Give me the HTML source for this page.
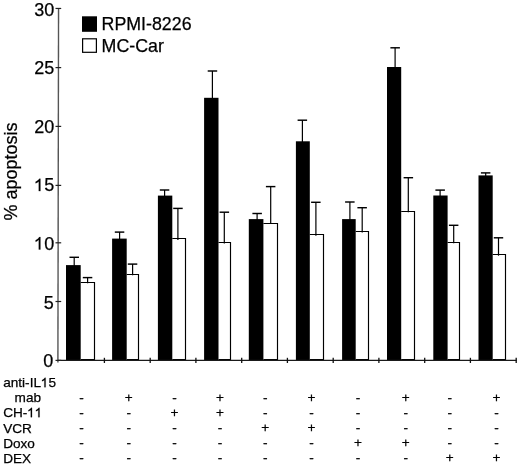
<!DOCTYPE html><html><head><meta charset="utf-8"><style>
html,body{margin:0;padding:0;background:#fff;}
svg{display:block;filter:grayscale(1);}
text{font-family:"Liberation Sans", sans-serif;fill:#000;stroke:#000;stroke-width:0.25px;font-kerning:none;}
.h{fill-opacity:0;stroke-opacity:0;}
</style></head><body>
<svg width="520" height="464" viewBox="0 0 520 464">
<line x1="74.2" y1="257.3" x2="74.2" y2="266.1" stroke="#000" stroke-width="1.2"/>
<line x1="69.5" y1="257.3" x2="79.0" y2="257.3" stroke="#000" stroke-width="1.45"/>
<line x1="87.6" y1="277.6" x2="87.6" y2="283.3" stroke="#000" stroke-width="1.2"/>
<line x1="82.8" y1="277.6" x2="92.3" y2="277.6" stroke="#000" stroke-width="1.45"/>
<rect x="66.0" y="265.1" width="14.7" height="94.9" fill="#000"/>
<path d="M80.7 282.5 H94.5 V360.0" fill="none" stroke="#000" stroke-width="1.15"/>
<line x1="80.7" y1="359.5" x2="94.5" y2="359.5" stroke="#000" stroke-width="1"/>
<line x1="119.6" y1="232.1" x2="119.6" y2="239.6" stroke="#000" stroke-width="1.2"/>
<line x1="114.8" y1="232.1" x2="124.3" y2="232.1" stroke="#000" stroke-width="1.45"/>
<line x1="132.6" y1="264.1" x2="132.6" y2="275.2" stroke="#000" stroke-width="1.2"/>
<line x1="127.8" y1="264.1" x2="137.3" y2="264.1" stroke="#000" stroke-width="1.45"/>
<rect x="112.1" y="238.6" width="14.6" height="121.4" fill="#000"/>
<path d="M126.7 274.5 H138.5 V360.0" fill="none" stroke="#000" stroke-width="1.15"/>
<line x1="126.7" y1="359.5" x2="138.5" y2="359.5" stroke="#000" stroke-width="1"/>
<line x1="164.6" y1="190.0" x2="164.6" y2="196.6" stroke="#000" stroke-width="1.2"/>
<line x1="159.8" y1="190.0" x2="169.3" y2="190.0" stroke="#000" stroke-width="1.45"/>
<line x1="177.9" y1="208.4" x2="177.9" y2="239.9" stroke="#000" stroke-width="1.2"/>
<line x1="173.2" y1="208.4" x2="182.7" y2="208.4" stroke="#000" stroke-width="1.45"/>
<rect x="157.9" y="195.6" width="14.4" height="164.4" fill="#000"/>
<path d="M172.3 238.5 H185.5 V360.0" fill="none" stroke="#000" stroke-width="1.15"/>
<line x1="172.3" y1="359.5" x2="185.5" y2="359.5" stroke="#000" stroke-width="1"/>
<line x1="212.4" y1="71.0" x2="212.4" y2="98.8" stroke="#000" stroke-width="1.2"/>
<line x1="207.7" y1="71.0" x2="217.2" y2="71.0" stroke="#000" stroke-width="1.45"/>
<line x1="224.3" y1="212.2" x2="224.3" y2="243.4" stroke="#000" stroke-width="1.2"/>
<line x1="219.6" y1="212.2" x2="229.1" y2="212.2" stroke="#000" stroke-width="1.45"/>
<rect x="204.1" y="97.8" width="14.4" height="262.2" fill="#000"/>
<path d="M218.5 242.5 H230.5 V360.0" fill="none" stroke="#000" stroke-width="1.15"/>
<line x1="218.5" y1="359.5" x2="230.5" y2="359.5" stroke="#000" stroke-width="1"/>
<line x1="257.1" y1="213.5" x2="257.1" y2="220.1" stroke="#000" stroke-width="1.2"/>
<line x1="252.4" y1="213.5" x2="261.9" y2="213.5" stroke="#000" stroke-width="1.45"/>
<line x1="270.7" y1="186.6" x2="270.7" y2="224.1" stroke="#000" stroke-width="1.2"/>
<line x1="265.9" y1="186.6" x2="275.4" y2="186.6" stroke="#000" stroke-width="1.45"/>
<rect x="248.8" y="219.1" width="14.6" height="140.9" fill="#000"/>
<path d="M263.4 223.5 H277.5 V360.0" fill="none" stroke="#000" stroke-width="1.15"/>
<line x1="263.4" y1="359.5" x2="277.5" y2="359.5" stroke="#000" stroke-width="1"/>
<line x1="302.4" y1="120.2" x2="302.4" y2="142.3" stroke="#000" stroke-width="1.2"/>
<line x1="297.6" y1="120.2" x2="307.1" y2="120.2" stroke="#000" stroke-width="1.45"/>
<line x1="315.9" y1="202.3" x2="315.9" y2="235.7" stroke="#000" stroke-width="1.2"/>
<line x1="311.1" y1="202.3" x2="320.6" y2="202.3" stroke="#000" stroke-width="1.45"/>
<rect x="295.9" y="141.3" width="13.9" height="218.7" fill="#000"/>
<path d="M309.8 234.5 H323.5 V360.0" fill="none" stroke="#000" stroke-width="1.15"/>
<line x1="309.8" y1="359.5" x2="323.5" y2="359.5" stroke="#000" stroke-width="1"/>
<line x1="349.9" y1="202.0" x2="349.9" y2="220.1" stroke="#000" stroke-width="1.2"/>
<line x1="345.1" y1="202.0" x2="354.6" y2="202.0" stroke="#000" stroke-width="1.45"/>
<line x1="362.2" y1="207.7" x2="362.2" y2="232.4" stroke="#000" stroke-width="1.2"/>
<line x1="357.4" y1="207.7" x2="366.9" y2="207.7" stroke="#000" stroke-width="1.45"/>
<rect x="342.1" y="219.1" width="13.6" height="140.9" fill="#000"/>
<path d="M355.7 231.5 H368.5 V360.0" fill="none" stroke="#000" stroke-width="1.15"/>
<line x1="355.7" y1="359.5" x2="368.5" y2="359.5" stroke="#000" stroke-width="1"/>
<line x1="395.1" y1="47.8" x2="395.1" y2="68.0" stroke="#000" stroke-width="1.2"/>
<line x1="390.4" y1="47.8" x2="399.9" y2="47.8" stroke="#000" stroke-width="1.45"/>
<line x1="408.3" y1="177.7" x2="408.3" y2="212.2" stroke="#000" stroke-width="1.2"/>
<line x1="403.6" y1="177.7" x2="413.1" y2="177.7" stroke="#000" stroke-width="1.45"/>
<rect x="387.0" y="67.0" width="14.2" height="293.0" fill="#000"/>
<path d="M401.2 211.5 H414.5 V360.0" fill="none" stroke="#000" stroke-width="1.15"/>
<line x1="401.2" y1="359.5" x2="414.5" y2="359.5" stroke="#000" stroke-width="1"/>
<line x1="440.1" y1="190.1" x2="440.1" y2="196.5" stroke="#000" stroke-width="1.2"/>
<line x1="435.4" y1="190.1" x2="444.9" y2="190.1" stroke="#000" stroke-width="1.45"/>
<line x1="453.7" y1="225.3" x2="453.7" y2="243.2" stroke="#000" stroke-width="1.2"/>
<line x1="448.9" y1="225.3" x2="458.4" y2="225.3" stroke="#000" stroke-width="1.45"/>
<rect x="433.3" y="195.5" width="14.3" height="164.5" fill="#000"/>
<path d="M447.6 242.5 H459.5 V360.0" fill="none" stroke="#000" stroke-width="1.15"/>
<line x1="447.6" y1="359.5" x2="459.5" y2="359.5" stroke="#000" stroke-width="1"/>
<line x1="485.7" y1="172.9" x2="485.7" y2="176.4" stroke="#000" stroke-width="1.2"/>
<line x1="480.9" y1="172.9" x2="490.4" y2="172.9" stroke="#000" stroke-width="1.45"/>
<line x1="498.5" y1="237.8" x2="498.5" y2="255.7" stroke="#000" stroke-width="1.2"/>
<line x1="493.8" y1="237.8" x2="503.2" y2="237.8" stroke="#000" stroke-width="1.45"/>
<rect x="478.5" y="175.4" width="14.2" height="184.6" fill="#000"/>
<path d="M492.7 254.5 H505.5 V360.0" fill="none" stroke="#000" stroke-width="1.15"/>
<line x1="492.7" y1="359.5" x2="505.5" y2="359.5" stroke="#000" stroke-width="1"/>
<line x1="58.55" y1="8.4" x2="57.9" y2="362.5" stroke="#555" stroke-width="1.4"/>
<line x1="58" y1="360.4" x2="516.8" y2="360.4" stroke="#1a1a1a" stroke-width="1.2"/>
<line x1="55.5" y1="8.45" x2="61.2" y2="8.45" stroke="#222" stroke-width="1.2"/>
<text x="54.30" y="15.50" font-size="18" text-anchor="end">30</text>
<line x1="55.5" y1="67.60" x2="61.2" y2="67.60" stroke="#222" stroke-width="1.2"/>
<text x="54.30" y="73.80" font-size="18" text-anchor="end">25</text>
<line x1="55.5" y1="126.40" x2="61.2" y2="126.40" stroke="#222" stroke-width="1.2"/>
<text x="54.30" y="132.50" font-size="18" text-anchor="end">20</text>
<line x1="55.5" y1="185.40" x2="61.2" y2="185.40" stroke="#222" stroke-width="1.2"/>
<text id="t4" x="54.30" y="191.10" font-size="18" text-anchor="end"><tspan class="h">1</tspan>5</text>
<path d="M695 0H515V1098Q450 1038 344.5 979Q239 920 155 890V1057Q306 1124 419 1221Q532 1318 579 1409H695Z" transform="translate(34.27 191.10) scale(0.00879 -0.00879)" fill="#000" stroke="#000" stroke-width="28.4"/>
<line x1="55.5" y1="242.80" x2="61.2" y2="242.80" stroke="#222" stroke-width="1.2"/>
<text id="t5" x="54.30" y="249.50" font-size="18" text-anchor="end"><tspan class="h">1</tspan>0</text>
<path d="M695 0H515V1098Q450 1038 344.5 979Q239 920 155 890V1057Q306 1124 419 1221Q532 1318 579 1409H695Z" transform="translate(34.27 249.50) scale(0.00879 -0.00879)" fill="#000" stroke="#000" stroke-width="28.4"/>
<line x1="55.5" y1="301.50" x2="61.2" y2="301.50" stroke="#222" stroke-width="1.2"/>
<text x="53.70" y="308.60" font-size="18" text-anchor="end">5</text>
<line x1="55.5" y1="360.40" x2="61.2" y2="360.40" stroke="#222" stroke-width="1.2"/>
<text x="53.30" y="366.65" font-size="18" text-anchor="end">0</text>
<line x1="104.4" y1="357.8" x2="104.4" y2="363" stroke="#111" stroke-width="1.3"/>
<line x1="150.2" y1="357.8" x2="150.2" y2="363" stroke="#111" stroke-width="1.3"/>
<line x1="195.9" y1="357.8" x2="195.9" y2="363" stroke="#111" stroke-width="1.3"/>
<line x1="241.7" y1="357.8" x2="241.7" y2="363" stroke="#111" stroke-width="1.3"/>
<line x1="287.4" y1="357.8" x2="287.4" y2="363" stroke="#111" stroke-width="1.3"/>
<line x1="333.2" y1="357.8" x2="333.2" y2="363" stroke="#111" stroke-width="1.3"/>
<line x1="378.9" y1="357.8" x2="378.9" y2="363" stroke="#111" stroke-width="1.3"/>
<line x1="424.7" y1="357.8" x2="424.7" y2="363" stroke="#111" stroke-width="1.3"/>
<line x1="470.4" y1="357.8" x2="470.4" y2="363" stroke="#111" stroke-width="1.3"/>
<line x1="516.2" y1="357.8" x2="516.2" y2="363" stroke="#111" stroke-width="1.3"/>
<text transform="translate(16.6,220.5) rotate(-90)" font-size="18">% apoptosis</text>
<rect x="82" y="16.3" width="15" height="15.5" fill="#000"/>
<rect x="82.6" y="38.8" width="13.8" height="13.5" fill="#fff" stroke="#000" stroke-width="1.2"/>
<text x="101.60" y="29.80" font-size="17.8">RPMI-8226</text>
<text x="101.60" y="51.60" font-size="17.8">MC-Car</text>
<text id="t10" x="3.20" y="387.20" font-size="13.6">anti-IL<tspan class="h">1</tspan>5</text>
<path d="M695 0H515V1098Q450 1038 344.5 979Q239 920 155 890V1057Q306 1124 419 1221Q532 1318 579 1409H695Z" transform="translate(40.98 387.20) scale(0.00664 -0.00664)" fill="#000" stroke="#000" stroke-width="37.6"/>
<text x="14.60" y="402.20" font-size="13.6">mab</text>
<text id="t12" x="3.20" y="417.20" font-size="13.6">CH-<tspan class="h">1</tspan><tspan class="h">1</tspan></text>
<path d="M695 0H515V1098Q450 1038 344.5 979Q239 920 155 890V1057Q306 1124 419 1221Q532 1318 579 1409H695Z" transform="translate(27.37 417.20) scale(0.00664 -0.00664)" fill="#000" stroke="#000" stroke-width="37.6"/>
<path d="M695 0H515V1098Q450 1038 344.5 979Q239 920 155 890V1057Q306 1124 419 1221Q532 1318 579 1409H695Z" transform="translate(34.93 417.20) scale(0.00664 -0.00664)" fill="#000" stroke="#000" stroke-width="37.6"/>
<text x="3.20" y="432.50" font-size="13.6">VCR</text>
<text x="3.20" y="447.60" font-size="13.6">Doxo</text>
<text x="3.20" y="462.70" font-size="13.6">DEX</text>
<text x="81.5" y="401.9" font-size="13.6" text-anchor="middle">-</text>
<text x="128.7" y="401.9" font-size="13.6" text-anchor="middle">+</text>
<text x="174.4" y="401.9" font-size="13.6" text-anchor="middle">-</text>
<text x="220.0" y="401.9" font-size="13.6" text-anchor="middle">+</text>
<text x="265.2" y="401.9" font-size="13.6" text-anchor="middle">-</text>
<text x="311.6" y="401.9" font-size="13.6" text-anchor="middle">+</text>
<text x="358.0" y="401.9" font-size="13.6" text-anchor="middle">-</text>
<text x="405.8" y="401.9" font-size="13.6" text-anchor="middle">+</text>
<text x="449.7" y="401.9" font-size="13.6" text-anchor="middle">-</text>
<text x="496.5" y="401.9" font-size="13.6" text-anchor="middle">+</text>
<text x="81.5" y="416.9" font-size="13.6" text-anchor="middle">-</text>
<text x="128.7" y="416.9" font-size="13.6" text-anchor="middle">-</text>
<text x="174.4" y="416.9" font-size="13.6" text-anchor="middle">+</text>
<text x="220.0" y="416.9" font-size="13.6" text-anchor="middle">+</text>
<text x="265.2" y="416.9" font-size="13.6" text-anchor="middle">-</text>
<text x="311.6" y="416.9" font-size="13.6" text-anchor="middle">-</text>
<text x="358.0" y="416.9" font-size="13.6" text-anchor="middle">-</text>
<text x="405.8" y="416.9" font-size="13.6" text-anchor="middle">-</text>
<text x="449.7" y="416.9" font-size="13.6" text-anchor="middle">-</text>
<text x="496.5" y="416.9" font-size="13.6" text-anchor="middle">-</text>
<text x="81.5" y="432.0" font-size="13.6" text-anchor="middle">-</text>
<text x="128.7" y="432.0" font-size="13.6" text-anchor="middle">-</text>
<text x="174.4" y="432.0" font-size="13.6" text-anchor="middle">-</text>
<text x="220.0" y="432.0" font-size="13.6" text-anchor="middle">-</text>
<text x="265.2" y="432.0" font-size="13.6" text-anchor="middle">+</text>
<text x="311.6" y="432.0" font-size="13.6" text-anchor="middle">+</text>
<text x="358.0" y="432.0" font-size="13.6" text-anchor="middle">-</text>
<text x="405.8" y="432.0" font-size="13.6" text-anchor="middle">-</text>
<text x="449.7" y="432.0" font-size="13.6" text-anchor="middle">-</text>
<text x="496.5" y="432.0" font-size="13.6" text-anchor="middle">-</text>
<text x="81.5" y="447.0" font-size="13.6" text-anchor="middle">-</text>
<text x="128.7" y="447.0" font-size="13.6" text-anchor="middle">-</text>
<text x="174.4" y="447.0" font-size="13.6" text-anchor="middle">-</text>
<text x="220.0" y="447.0" font-size="13.6" text-anchor="middle">-</text>
<text x="265.2" y="447.0" font-size="13.6" text-anchor="middle">-</text>
<text x="311.6" y="447.0" font-size="13.6" text-anchor="middle">-</text>
<text x="358.0" y="447.0" font-size="13.6" text-anchor="middle">+</text>
<text x="405.8" y="447.0" font-size="13.6" text-anchor="middle">+</text>
<text x="449.7" y="447.0" font-size="13.6" text-anchor="middle">-</text>
<text x="496.5" y="447.0" font-size="13.6" text-anchor="middle">-</text>
<text x="81.5" y="462.0" font-size="13.6" text-anchor="middle">-</text>
<text x="128.7" y="462.0" font-size="13.6" text-anchor="middle">-</text>
<text x="174.4" y="462.0" font-size="13.6" text-anchor="middle">-</text>
<text x="220.0" y="462.0" font-size="13.6" text-anchor="middle">-</text>
<text x="265.2" y="462.0" font-size="13.6" text-anchor="middle">-</text>
<text x="311.6" y="462.0" font-size="13.6" text-anchor="middle">-</text>
<text x="358.0" y="462.0" font-size="13.6" text-anchor="middle">-</text>
<text x="405.8" y="462.0" font-size="13.6" text-anchor="middle">-</text>
<text x="449.7" y="462.0" font-size="13.6" text-anchor="middle">+</text>
<text x="496.5" y="462.0" font-size="13.6" text-anchor="middle">+</text>
</svg></body></html>
